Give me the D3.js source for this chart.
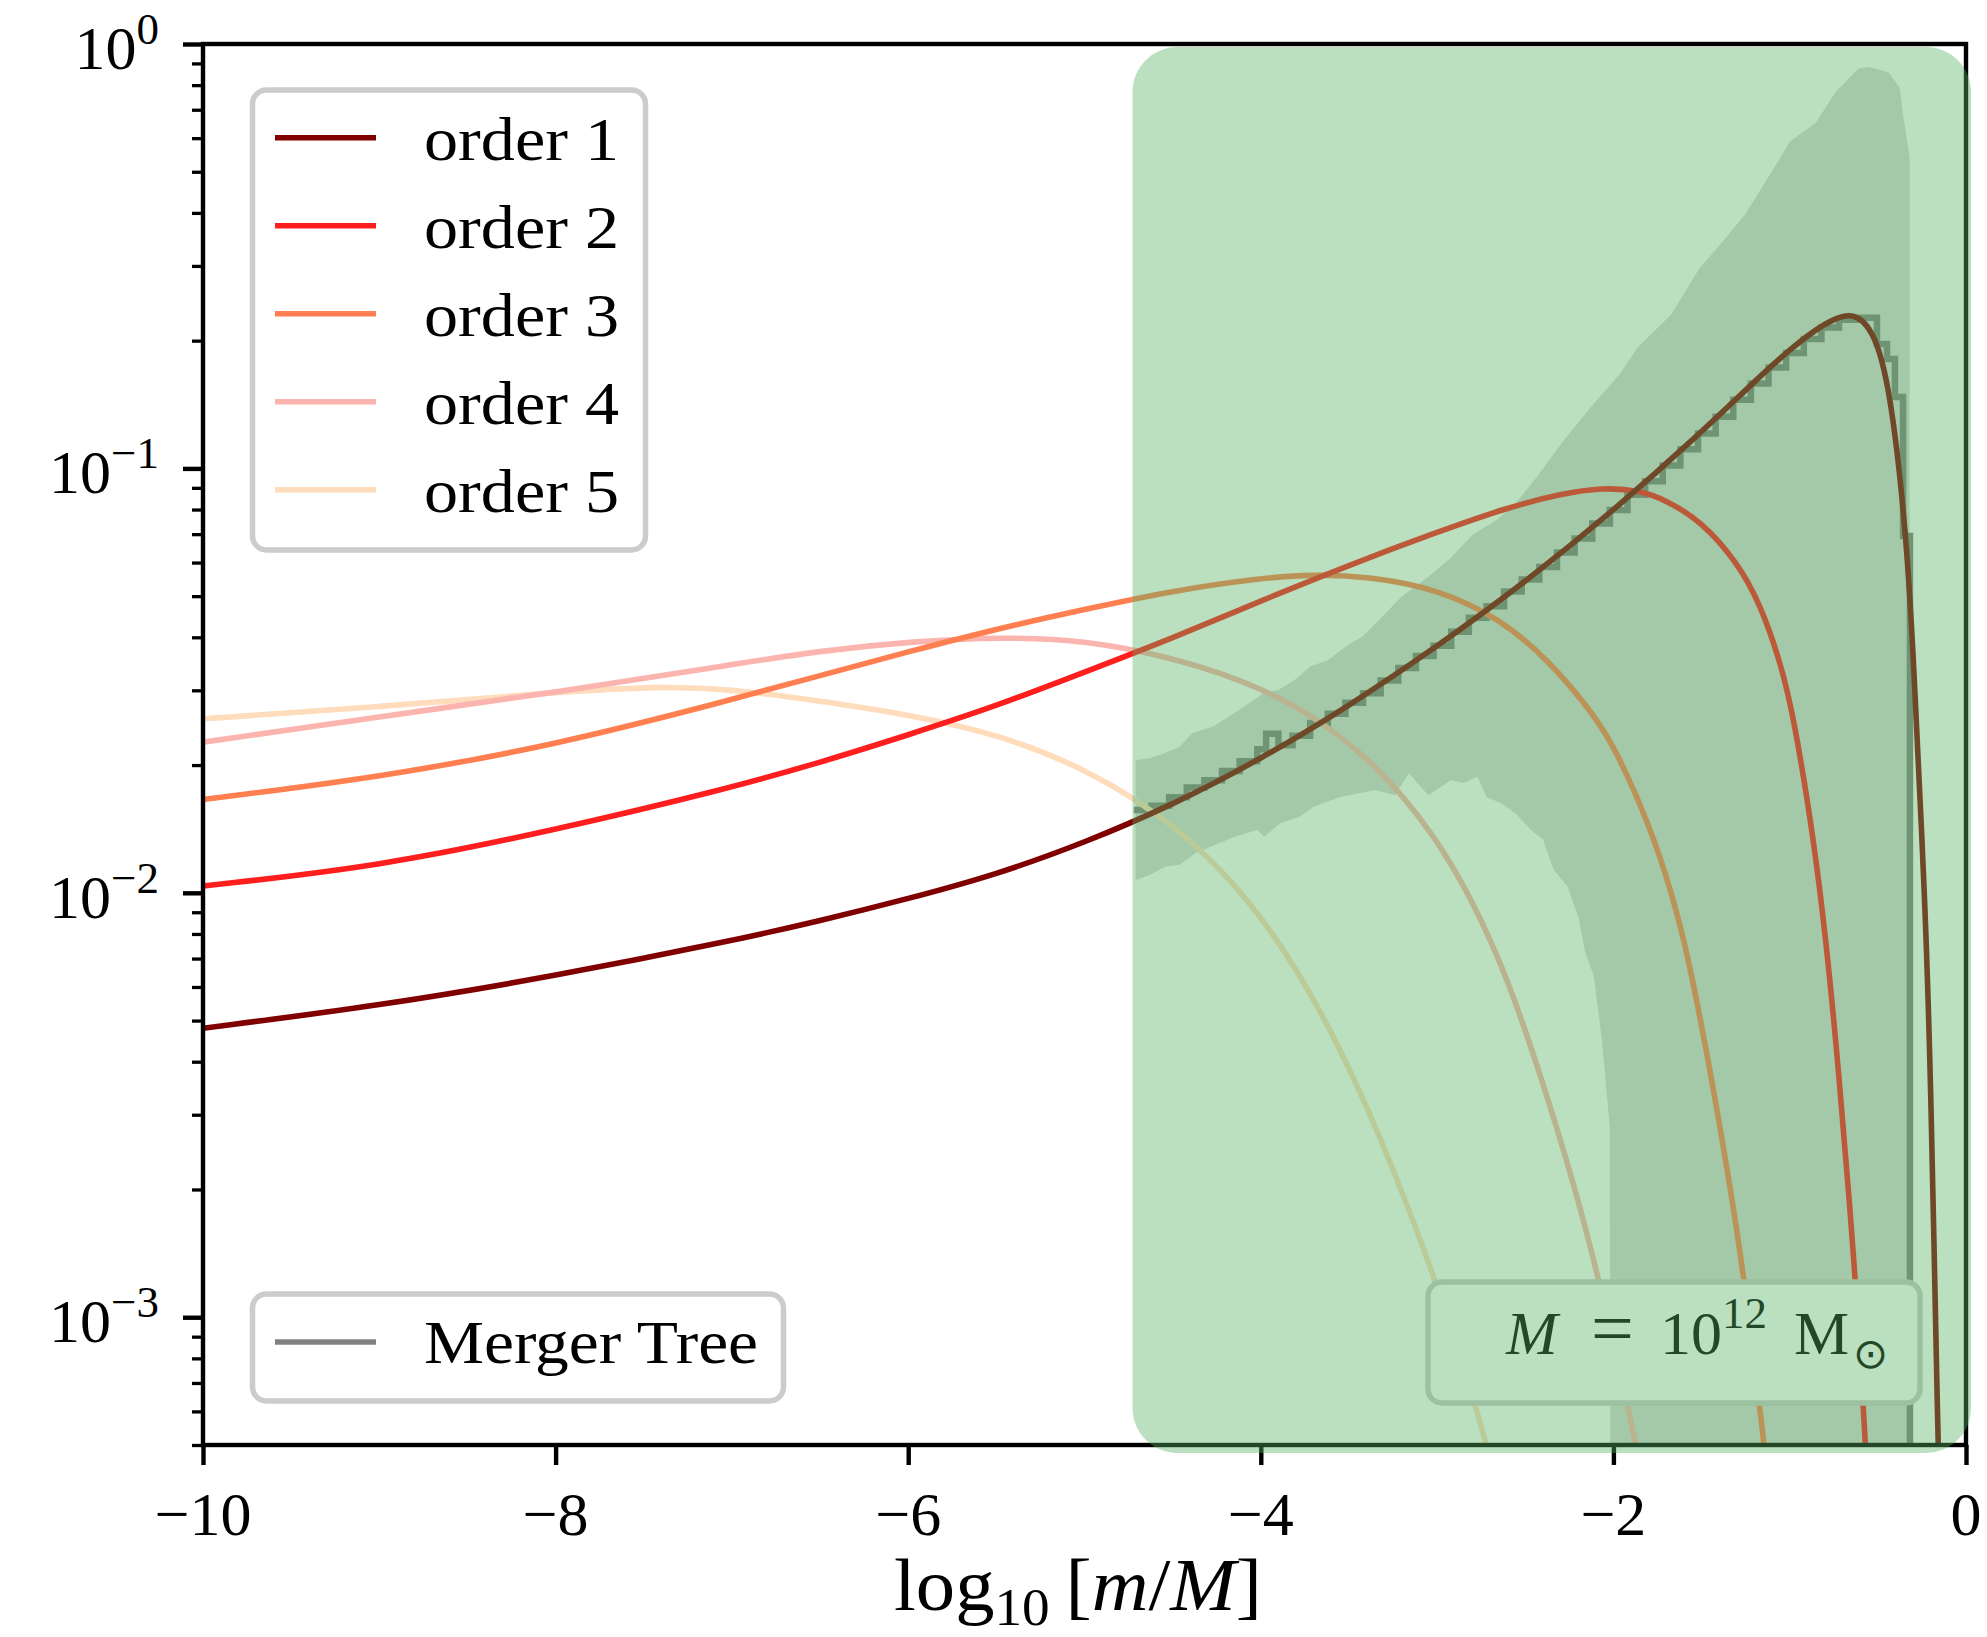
<!DOCTYPE html>
<html>
<head>
<meta charset="utf-8">
<script src="https://cdn.jsdelivr.net/npm/d3@7"></script>
<style>
body { margin: 0; background: #fff; }
text { font-family: "Liberation Serif", "DejaVu Serif", serif; fill: #000; }
</style>
</head>
<body>
<svg id="chart" width="1987" height="1637"></svg>
<script>
// values are [log10(m/M), log10(f)]
const order1 = [[-10,-2.319],[-9,-2.266],[-8,-2.196],[-7,-2.113],[-6.5,-2.066],[-6,-2.014],[-5.5,-1.957],
  [-5,-1.882],[-4.5,-1.793],[-4,-1.685],[-3.5,-1.560],[-3,-1.420],[-2.5,-1.268],[-2,-1.100],[-1.5,-0.915],
  [-1.2,-0.795],[-1.0,-0.720],[-0.85,-0.672],[-0.75,-0.648],[-0.64,-0.633],[-0.53,-0.669],[-0.43,-0.801],
  [-0.327,-1.201],[-0.289,-1.537],[-0.232,-2.017],[-0.2,-2.43],[-0.159,-3.30],[-0.14,-3.6]];
const order2 = [[-10,-1.984],[-9,-1.938],[-8,-1.852],[-7,-1.752],[-6.5,-1.693],[-6,-1.628],[-5.5,-1.560],
  [-5,-1.480],[-4.5,-1.400],[-4,-1.312],[-3.5,-1.228],[-3,-1.150],[-2.6,-1.092],[-2.3,-1.060],[-2.06,-1.045],
  [-1.85,-1.052],[-1.7,-1.075],[-1.5,-1.125],[-1.3,-1.22],[-1.17,-1.316],[-1.05,-1.46],[-0.98,-1.58],
  [-0.868,-1.86],[-0.794,-2.11],[-0.726,-2.40],[-0.63,-2.88],[-0.573,-3.28],[-0.53,-3.6]];
const order3 = [[-10,-1.78],[-9,-1.728],[-8,-1.652],[-7,-1.545],[-6.5,-1.488],[-6,-1.432],[-5.5,-1.378],
  [-5,-1.332],[-4.5,-1.288],[-4,-1.258],[-3.7,-1.250],[-3.4,-1.254],[-3.0,-1.283],[-2.64,-1.355],
  [-2.37,-1.45],[-2.1,-1.585],[-1.98,-1.668],[-1.79,-1.845],[-1.67,-2.0],[-1.58,-2.14],[-1.45,-2.42],
  [-1.35,-2.66],[-1.26,-2.90],[-1.15,-3.28],[-1.08,-3.55]];
const order4 = [[-10,-1.645],[-9,-1.585],[-8,-1.528],[-7,-1.462],[-6.5,-1.430],[-6,-1.408],[-5.45,-1.397],
  [-5,-1.405],[-4.5,-1.445],[-4,-1.512],[-3.5,-1.632],[-3.0,-1.855],[-2.64,-2.15],[-2.42,-2.42],
  [-2.19,-2.73],[-2.02,-3.02],[-1.88,-3.28],[-1.7,-3.66]];
const order5 = [[-10,-1.590],[-9,-1.562],[-8,-1.527],[-7.4,-1.513],[-7,-1.520],[-6.5,-1.548],[-6,-1.580],
  [-5.5,-1.625],[-5,-1.705],[-4.5,-1.832],[-4,-2.035],[-3.5,-2.385],[-3,-2.91],[-2.71,-3.30],[-2.5,-3.67]];

// merger tree: mean (histogram steps) and scatter band
const treeSteps = [[-4.72,-1.805],[-4.62,-1.795],[-4.52,-1.775],[-4.42,-1.752],[-4.32,-1.735],[-4.22,-1.713],
  [-4.12,-1.690],[-4.02,-1.662],[-3.97,-1.625],[-3.90,-1.652],[-3.82,-1.630],[-3.72,-1.600],[-3.62,-1.578],
  [-3.52,-1.552],[-3.42,-1.530],[-3.32,-1.500],[-3.22,-1.470],[-3.12,-1.442],[-3.02,-1.418],[-2.92,-1.385],
  [-2.82,-1.352],[-2.72,-1.325],[-2.62,-1.290],[-2.52,-1.262],[-2.42,-1.232],[-2.32,-1.198],[-2.22,-1.165],
  [-2.12,-1.130],[-2.02,-1.098],[-1.92,-1.062],[-1.82,-1.030],[-1.72,-0.993],[-1.62,-0.955],[-1.52,-0.918],
  [-1.42,-0.878],[-1.32,-0.838],[-1.22,-0.800],[-1.12,-0.762],[-1.02,-0.728],[-0.92,-0.695],[-0.82,-0.668],
  [-0.72,-0.650],[-0.62,-0.645],[-0.505,-0.707],[-0.448,-0.742],[-0.403,-0.832],[-0.357,-1.159]];
const treeStepEnd = -0.318;
const bandUpper = [[-4.71,-1.687],[-4.63,-1.683],[-4.55,-1.672],[-4.46,-1.656],[-4.39,-1.624],[-4.27,-1.608],
  [-4.15,-1.576],[-3.98,-1.529],[-3.90,-1.522],[-3.81,-1.499],[-3.72,-1.467],[-3.62,-1.452],[-3.52,-1.42],
  [-3.42,-1.395],[-3.33,-1.357],[-3.2,-1.302],[-3.05,-1.255],[-2.92,-1.21],[-2.795,-1.155],[-2.666,-1.123],
  [-2.55,-1.08],[-2.44,-1.023],[-2.28,-0.933],[-2.12,-0.852],[-1.96,-0.776],[-1.865,-0.716],[-1.67,-0.636],
  [-1.51,-0.527],[-1.415,-0.483],[-1.25,-0.40],[-1.09,-0.293],[-0.998,-0.23],[-0.85,-0.185],[-0.74,-0.113],
  [-0.61,-0.058],[-0.55,-0.054],[-0.47,-0.063],[-0.437,-0.068],[-0.375,-0.104],[-0.357,-0.167],[-0.32,-0.266]];
const bandLower = [[-4.71,-1.97],[-4.63,-1.958],[-4.54,-1.938],[-4.46,-1.934],[-4.37,-1.906],[-4.28,-1.891],
  [-4.15,-1.868],[-4.02,-1.852],[-3.98,-1.868],[-3.89,-1.836],[-3.78,-1.821],[-3.70,-1.797],[-3.55,-1.774],
  [-3.35,-1.758],[-3.24,-1.77],[-3.16,-1.718],[-3.05,-1.77],[-2.92,-1.734],[-2.85,-1.741],[-2.77,-1.726],
  [-2.72,-1.774],[-2.63,-1.79],[-2.55,-1.815],[-2.46,-1.855],[-2.40,-1.873],[-2.34,-1.945],[-2.26,-1.985],
  [-2.20,-2.056],[-2.16,-2.14],[-2.11,-2.198],[-2.065,-2.347],[-2.02,-2.554],[-2.01,-6],[-0.32,-6]];

const orderNames = ["order 1", "order 2", "order 3", "order 4", "order 5"];
const orderColors = ["#800000", "#ff1e1e", "#ff7f50", "#fcb4ae", "#fedcbc"];
const orderData = [order1, order2, order3, order4, order5];

const xTicks = [-10, -8, -6, -4, -2, 0];
const xTickLabels = ["\u221210", "\u22128", "\u22126", "\u22124", "\u22122", "0"];
const yMajor = [1, 1e-1, 1e-2, 1e-3];
const yMajorExp = ["0", "\u22121", "\u22122", "\u22123"];

const W = 1987, H = 1637;
const margin = {top: 44, right: 21, bottom: 192, left: 203};

let svg = d3.select("#chart");
let x = d3.scaleLinear().domain([-10, 0]).range([margin.left, W - margin.right]);
let y = d3.scaleLog().domain([5e-4, 1]).range([H - margin.bottom, margin.top]);
let px = d => x(d[0]), py = d => y(Math.pow(10, d[1]));

svg.append("clipPath").attr("id", "plot-clip")
    .append("rect")
    .attr("x", margin.left).attr("y", margin.top)
    .attr("width", W - margin.left - margin.right)
    .attr("height", H - margin.top - margin.bottom);

let plot = svg.append("g").attr("clip-path", "url(#plot-clip)");

// merger tree scatter band
let bandPts = bandUpper.concat(bandLower.slice().reverse());
plot.append("path")
    .attr("d", d3.line().x(px).y(py)(bandPts) + "Z")
    .style("fill", "#808080")
    .style("fill-opacity", 0.31);

// merger tree mean
let stepPts = treeSteps.concat([[treeStepEnd, treeSteps[treeSteps.length - 1][1]], [treeStepEnd, -6]]);
plot.append("path")
    .attr("d", d3.line().x(px).y(py).curve(d3.curveStepAfter)(stepPts))
    .style("fill", "none")
    .style("stroke", "#808080")
    .style("stroke-width", 6.5);

// analytic orders, drawn highest order first so order 1 lies on top
let line = d3.line().x(px).y(py).curve(d3.curveBasis);
for (let i = orderData.length - 1; i >= 0; i--) {
    plot.append("path")
        .attr("d", line(orderData[i]))
        .style("fill", "none")
        .style("stroke", orderColors[i])
        .style("stroke-width", 5.6);
}

// axes
let yMinor = [];
[1e-4, 1e-3, 1e-2, 1e-1].forEach(dec => {
    for (let k = 2; k <= 9; k++) {
        let v = dec * k;
        if (v >= 5e-4 - 1e-12 && v < 1) yMinor.push(v);
    }
});

let styleAxis = (g, w) => {
    g.select(".domain").remove();
    g.selectAll(".tick line").style("stroke", "#000").style("stroke-width", w);
};

svg.append("g")
    .attr("transform", `translate(0,${H - margin.bottom})`)
    .call(d3.axisBottom(x).tickValues(xTicks).tickSize(20).tickFormat(""))
    .call(g => styleAxis(g, 4.4));

svg.append("g")
    .attr("transform", `translate(${margin.left},0)`)
    .call(d3.axisLeft(y).tickValues(yMajor).tickSize(20).tickFormat(""))
    .call(g => styleAxis(g, 4.4));

svg.append("g")
    .attr("transform", `translate(${margin.left},0)`)
    .call(d3.axisLeft(y).tickValues(yMinor).tickSize(11).tickFormat(""))
    .call(g => styleAxis(g, 3.3));

// spines
svg.append("rect")
    .attr("x", margin.left).attr("y", margin.top)
    .attr("width", W - margin.left - margin.right)
    .attr("height", H - margin.top - margin.bottom)
    .style("fill", "none").style("stroke", "#000").style("stroke-width", 4.4);

// tick labels
svg.append("g").selectAll("text")
    .data(xTicks)
    .enter().append("text")
    .attr("x", d => x(d))
    .attr("y", 1535)
    .attr("text-anchor", "middle")
    .style("font-size", "62px")
    .text((d, i) => xTickLabels[i]);

yMajor.forEach((v, i) => {
    let t = svg.append("text")
        .attr("x", 159)
        .attr("y", y(v) + 25)
        .attr("text-anchor", "end")
        .style("font-size", "62px");
    t.append("tspan").text("10");
    t.append("tspan").attr("dy", -25).style("font-size", "45px").text(yMajorExp[i]);
});

// x axis label
let xl = svg.append("text")
    .attr("x", 1078).attr("y", 1610)
    .attr("text-anchor", "middle")
    .attr("textLength", 368).attr("lengthAdjust", "spacingAndGlyphs")
    .style("font-size", "74px");
xl.append("tspan").text("log");
xl.append("tspan").attr("dy", 15).style("font-size", "52px").text("10");
xl.append("tspan").attr("dy", -15).text("\u2009[");
xl.append("tspan").style("font-style", "italic").text("m");
xl.append("tspan").text("/");
xl.append("tspan").style("font-style", "italic").text("M");
xl.append("tspan").text("]");

// legend of the orders
let legend = svg.append("g");
legend.append("rect")
    .attr("x", 252.5).attr("y", 90).attr("width", 393).attr("height", 460)
    .attr("rx", 14)
    .style("fill", "#fff").style("stroke", "#cccccc").style("stroke-width", 5.5);
orderNames.forEach((name, i) => {
    let cy = 137.7 + i * 88;
    legend.append("line")
        .attr("x1", 275).attr("x2", 376).attr("y1", cy).attr("y2", cy)
        .style("stroke", orderColors[i]).style("stroke-width", 5.6);
    legend.append("text")
        .attr("x", 424).attr("y", cy + 22)
        .attr("textLength", 195).attr("lengthAdjust", "spacingAndGlyphs")
        .style("font-size", "62px")
        .text(name);
});

// legend of the merger tree
let legend2 = svg.append("g");
legend2.append("rect")
    .attr("x", 252.5).attr("y", 1294).attr("width", 531).attr("height", 107)
    .attr("rx", 14)
    .style("fill", "#fff").style("stroke", "#cccccc").style("stroke-width", 5.5);
legend2.append("line")
    .attr("x1", 275).attr("x2", 376).attr("y1", 1342).attr("y2", 1342)
    .style("stroke", "#808080").style("stroke-width", 5.6);
legend2.append("text")
    .attr("x", 424).attr("y", 1363)
    .attr("textLength", 334).attr("lengthAdjust", "spacingAndGlyphs")
    .style("font-size", "62px")
    .text("Merger Tree");

// host mass box
let mbox = svg.append("g");
mbox.append("rect")
    .attr("x", 1428).attr("y", 1282).attr("width", 492).attr("height", 121)
    .attr("rx", 14)
    .style("fill", "#fff").style("stroke", "#cccccc").style("stroke-width", 5.5);
let mt = mbox.append("text").attr("y", 1354).style("font-size", "62px");
mt.append("tspan").attr("x", 1506).style("font-style", "italic").text("M");
mt.append("tspan").attr("x", 1591).style("font-size", "76px").text("=");
mt.append("tspan").attr("x", 1660).text("10");
mt.append("tspan").attr("x", 1722).attr("dy", -26).style("font-size", "45px").text("12");
mt.append("tspan").attr("x", 1794).attr("dy", 26).text("M");
mt.append("tspan").attr("x", 1853).attr("dy", 14)
    .style("font-size", "42px").style("font-family", "DejaVu Sans").text("\u2299");

// translucent green panel over the merger tree range
svg.append("rect")
    .attr("x", 1132.5).attr("y", 47).attr("width", 838.5).attr("height", 1406)
    .attr("rx", 45)
    .style("fill", "rgb(87,178,99)").style("fill-opacity", 0.404);
</script>
</body>
</html>
